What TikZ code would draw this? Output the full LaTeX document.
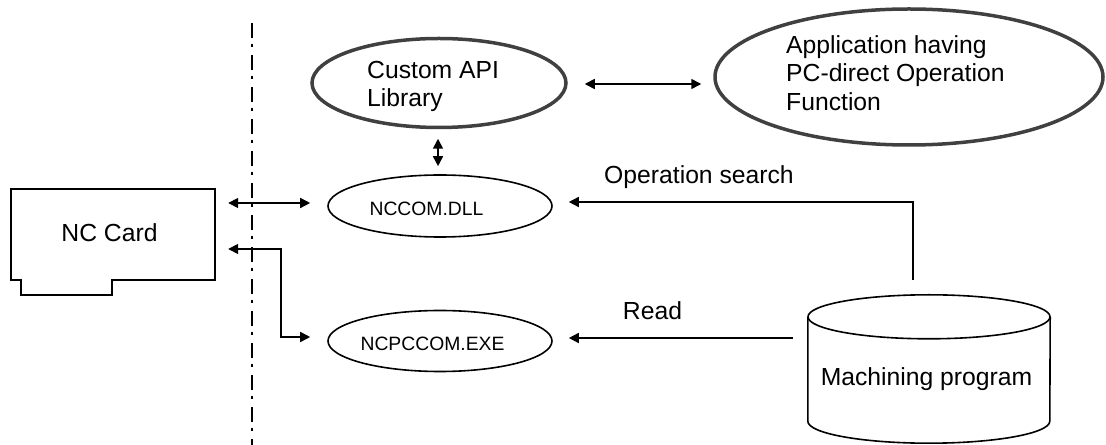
\documentclass[tikz,border=0pt]{standalone}
\usepackage{fontspec}
\setmainfont{Liberation Sans}
\usetikzlibrary{arrows.meta,shapes.geometric,calc}

\definecolor{rimgray}{HTML}{404040}

\begin{document}
\begin{tikzpicture}[x=1bp,y=-1bp,
  line/.style={line width=1.6bp, draw=black},
  bigtext/.style={font=\fontsize{24.8}{28.6}\selectfont, inner sep=0pt},
  smalltext/.style={font=\fontsize{19.4}{23}\selectfont, inner sep=0pt},
  proc/.style={ellipse, line, inner sep=0pt},
  lib/.style={ellipse, draw=rimgray, line width=3.5bp, inner sep=0pt},
  onehead/.style={line, -{Triangle[length=10bp,width=10bp]}},
  twohead/.style={line, {Triangle[length=10bp,width=10bp]}-{Triangle[length=10bp,width=10bp]}},
  divider/.style={line width=2bp, dash pattern=on 15bp off 6bp on 3bp off 8bp},
]
\useasboundingbox (0,0) rectangle (1106,445);

% boundary between the card and the PC software
\draw[divider] (252,23) -- (252,445);

% NC card with its edge connector tab
\node[minimum width=204bp, minimum height=91bp, inner sep=0pt] (card) at (113,234.5) {};
\draw[line] (card.north west) -- (card.north east) -- (card.south east)
  -- ++(-103,0) -- ++(0,15) -- ++(-91,0) -- ++(0,-15) -- (card.south west) -- cycle;
\node[bigtext, anchor=base] (cardtext) at (109.5,242) {NC Card};

% software components
\node[lib, minimum width=254bp, minimum height=89bp] (custom) at (439,83) {};
\node[bigtext, align=left, anchor=north west] (customtext) at (367,61) {Custom API\\Library};

\node[lib, minimum width=388bp, minimum height=136bp] (app) at (909,77) {};
\node[bigtext, align=left, anchor=north west] (apptext) at (786,35)
  {Application having\\PC-direct Operation\\Function};

\node[proc, minimum width=224bp, minimum height=62bp] (nccom) at (440,206) {};
\node[smalltext, anchor=base] (nccomtext) at (426.5,216) {NCCOM.DLL};

\node[proc, minimum width=224bp, minimum height=61bp] (ncpccom) at (440,341) {};
\node[smalltext, anchor=base] (ncpccomtext) at (432.5,350.5) {NCPCCOM.EXE};

% machining program storage drum
\node[minimum width=242bp, minimum height=149bp, inner sep=0pt] (cyl) at (929,368.5) {};
\draw[line] ($(cyl.north)+(0,23)$) ellipse [x radius=121, y radius=22];
\draw[line] ($(cyl.north west)+(0,23)$) -- ($(cyl.south west)+(0,-22)$)
  arc [start angle=180, end angle=0, x radius=121, y radius=22]
  -- ($(cyl.north east)+(0,23)$);
\node[bigtext, anchor=base] (cyltext) at (926.5,386) {Machining program};

% connectors
\draw[twohead] ($(card.east)+(13,-31.5)$) -- ($(nccom.west)+(-17,-3)$);
\draw[twohead] ($(card.east)+(13,14.5)$) -| ($(ncpccom.west)+(-46,-4)$)
  -- ($(ncpccom.west)+(-17,-4)$);
\draw[twohead] ($(custom.south)+(-1,9.5)$) -- ($(nccom.north)+(-2,-8)$);
\draw[twohead] ($(custom.east)+(17,1)$) -- ($(app.west)+(-12,7)$);
\draw[onehead] ($(cyl.north)+(-16,-14)$) |- ($(nccom.east)+(16,-4)$);
\draw[onehead] ($(cyl.west)+(-15,-30.5)$) -- ($(ncpccom.east)+(16,-3)$);

% connector labels
\node[bigtext, anchor=base] (searchlabel) at (699,184) {Operation search};
\node[bigtext, anchor=base] (readlabel) at (652.5,320) {Read};
\end{tikzpicture}
\end{document}
